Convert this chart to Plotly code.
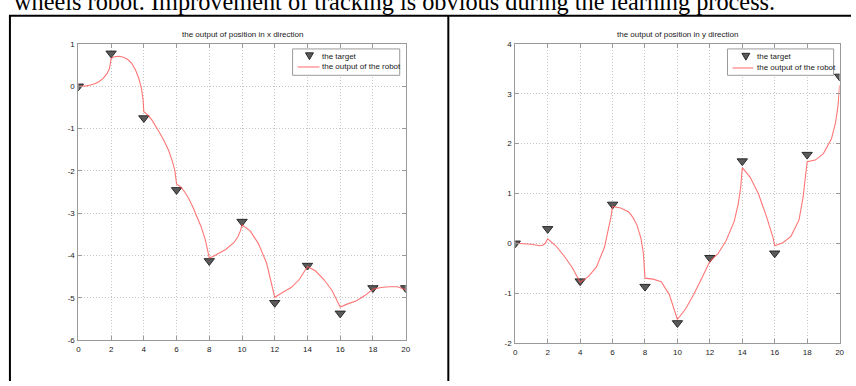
import plotly.graph_objects as go

# ---------------- data ----------------
target_t = [0, 2, 4, 6, 8, 10, 12, 14, 16, 18, 20]
target_x = [0, 0.78, -0.75, -2.45, -4.13, -3.2, -5.12, -4.24, -5.37, -4.77, -4.77]
target_y = [0, 0.29, -0.76, 0.78, -0.87, -1.6, -0.29, 1.65, -0.2, 1.78, 3.35]

robot_tx = [0, 0.25, 0.5, 0.75, 1.0, 1.25, 1.5, 1.75, 1.9, 2.0,
            2.2, 2.5, 2.75, 3.0, 3.25, 3.5, 3.7, 3.85, 3.95, 4.0,
            4.25, 4.5, 4.75, 5.0, 5.25, 5.5, 5.75, 5.9, 6.0,
            6.25, 6.5, 6.75, 7.0, 7.25, 7.5, 7.75, 7.9, 8.0,
            8.25, 8.5, 9.0, 9.5, 9.75, 9.9, 10.0,
            10.5, 11.0, 11.5, 11.75, 11.9, 12.0,
            12.5, 13.0, 13.5, 13.75, 14.0,
            14.5, 15.0, 15.5, 15.75, 16.0,
            16.5, 17.0, 17.5, 18.0,
            18.5, 19.0, 19.5, 19.8, 20.0]
robot_x = [0, 0.0, 0.01, 0.03, 0.06, 0.11, 0.18, 0.3, 0.42, 0.66,
           0.7, 0.71, 0.69, 0.64, 0.55, 0.38, 0.18, -0.05, -0.3, -0.6,
           -0.68, -0.8, -0.95, -1.12, -1.3, -1.5, -1.78, -2.0, -2.31,
           -2.38, -2.5, -2.66, -2.86, -3.07, -3.32, -3.62, -3.85, -4.06,
           -4.02, -3.97, -3.86, -3.7, -3.56, -3.42, -3.28,
           -3.42, -3.72, -4.18, -4.57, -4.8, -4.99,
           -4.87, -4.76, -4.57, -4.43, -4.26,
           -4.37, -4.57, -4.83, -5.03, -5.22,
           -5.14, -5.07, -4.95, -4.8,
           -4.76, -4.74, -4.74, -4.78, -4.81]

robot_ty = [0, 0.5, 1.0, 1.5, 1.7, 1.85, 2.0,
            2.5, 3.0, 3.5, 3.75, 4.0,
            4.5, 5.0, 5.5, 5.75, 5.9, 6.0,
            6.5, 7.0, 7.25, 7.5, 7.75, 7.9, 8.0,
            8.5, 9.0, 9.5, 9.75, 10.0,
            10.5, 11.0, 11.5, 11.75, 12.0,
            12.5, 13.0, 13.5, 13.75, 13.9, 14.0,
            14.5, 15.0, 15.5, 15.75, 15.9, 16.0,
            16.5, 17.0, 17.5, 17.75, 17.9, 18.0,
            18.5, 19.0, 19.5, 19.75, 19.9, 20.0]
robot_y = [0, -0.01, -0.02, -0.05, -0.04, 0.0, 0.09,
           -0.05, -0.25, -0.48, -0.63, -0.78,
           -0.67, -0.48, -0.08, 0.27, 0.53, 0.74,
           0.71, 0.63, 0.52, 0.37, 0.1, -0.2, -0.7,
           -0.72, -0.77, -1.03, -1.29, -1.53,
           -1.32, -1.03, -0.7, -0.52, -0.36,
           -0.21, 0.05, 0.44, 0.79, 1.12, 1.52,
           1.32, 0.99, 0.53, 0.27, 0.11, -0.05,
           0.01, 0.14, 0.47, 0.93, 1.32, 1.64,
           1.67, 1.8, 2.1, 2.42, 2.75, 3.17]

x_ticks = [0, 2, 4, 6, 8, 10, 12, 14, 16, 18, 20]
left_yticks = [1, 0, -1, -2, -3, -4, -5, -6]
right_yticks = [4, 3, 2, 1, 0, -1, -2]

title_left = "the output of position in x direction"
title_right = "the output of position in y direction"
name_target = "the target"
name_robot = "the output of the robot"
caption = "wheels robot. Improvement of tracking is obvious during the learning process."

# ---------------- styles ----------------
W, H = 856, 386
LINE_COLOR = "rgba(255,80,80,0.78)"
MARK_FILL = "#5a5a5a"
MARK_EDGE = "#2a2a2a"
AXIS_GREY = "#9a9a9a"
TICKFONT = dict(family="Liberation Sans", size=8, color="#1a1a1a")

def px_x(p):
    return p / W

def px_y(p):
    return 1 - p / H

fig = go.Figure()

marker_style = dict(symbol="triangle-down", size=9, color=MARK_FILL,
                    line=dict(color=MARK_EDGE, width=1))
fig.add_trace(go.Scatter(x=target_t, y=target_x, mode="markers", name=name_target,
                         marker=marker_style, xaxis="x", yaxis="y", showlegend=False))
fig.add_trace(go.Scatter(x=robot_tx, y=robot_x, mode="lines", name=name_robot,
                         line=dict(color=LINE_COLOR, width=1.1),
                         xaxis="x", yaxis="y", showlegend=False))
fig.add_trace(go.Scatter(x=target_t, y=target_y, mode="markers", name=name_target,
                         marker=marker_style, xaxis="x2", yaxis="y2", showlegend=False))
fig.add_trace(go.Scatter(x=robot_ty, y=robot_y, mode="lines", name=name_robot,
                         line=dict(color=LINE_COLOR, width=1.1),
                         xaxis="x2", yaxis="y2", showlegend=False))

axis_common = dict(showgrid=True, gridcolor="#c4c4c4", griddash="1px,2px", gridwidth=1,
                   showline=True, linecolor=AXIS_GREY, linewidth=1, mirror="ticks",
                   ticks="inside", ticklen=4, tickcolor=AXIS_GREY, tickfont=TICKFONT,
                   zeroline=False, fixedrange=True)

fig.update_layout(
    width=W, height=H,
    margin=dict(l=0, r=0, t=0, b=0),
    paper_bgcolor="white", plot_bgcolor="white",
    showlegend=False,
    xaxis=dict(domain=[px_x(77), px_x(407)], range=[0, 20], tickvals=x_ticks,
               ticktext=[str(v) for v in x_ticks],
               anchor="y", ticklabelstandoff=1, **axis_common),
    yaxis=dict(domain=[px_y(344), px_y(41)], range=[-6, 1], tickvals=left_yticks,
               ticktext=[str(v) for v in left_yticks],
               anchor="x", ticklabelstandoff=1, **axis_common),
    xaxis2=dict(domain=[px_x(517.5), px_x(844.5)], range=[0, 20], tickvals=x_ticks,
                ticktext=[str(v) for v in x_ticks],
                anchor="y2", ticklabelstandoff=1, **axis_common),
    yaxis2=dict(domain=[px_y(347), px_y(41)], range=[-2, 4], tickvals=right_yticks,
                ticktext=[str(v) for v in right_yticks],
                anchor="x2", ticklabelstandoff=1, **axis_common),
)

small_font = dict(family="Liberation Sans", size=8, color="#1a1a1a")
fig.add_annotation(text=title_left, x=(px_x(77) + px_x(407)) / 2, y=px_y(31),
                   xref="paper", yref="paper", showarrow=False, xanchor="center", yanchor="middle",
                   font=small_font)
fig.add_annotation(text=title_right, x=(px_x(517.5) + px_x(844.5)) / 2, y=px_y(31),
                   xref="paper", yref="paper", showarrow=False, xanchor="center", yanchor="middle",
                   font=small_font)
fig.add_annotation(text=caption, x=px_x(10), y=px_y(13.5), xref="paper", yref="paper",
                   showarrow=False, xanchor="left", yanchor="bottom",
                   font=dict(family="Liberation Serif", size=24.3, color="black"))

# legend boxes (MATLAB style, compact), drawn in paper space
def add_legend(box_l, box_r, box_t, box_b, mark_cx, line_l, line_r, text_l, row1, row2):
    fig.add_shape(type="rect", xref="paper", yref="paper",
                  x0=px_x(box_l), x1=px_x(box_r), y0=px_y(box_b), y1=px_y(box_t),
                  line=dict(color=AXIS_GREY, width=1), fillcolor="white", layer="above")
    path = "M {:.5f},{:.5f} L {:.5f},{:.5f} L {:.5f},{:.5f} Z".format(
        px_x(mark_cx - 4), px_y(row1 - 3.5), px_x(mark_cx + 4), px_y(row1 - 3.5),
        px_x(mark_cx), px_y(row1 + 3.5))
    fig.add_shape(type="path", xref="paper", yref="paper", path=path,
                  fillcolor=MARK_FILL, line=dict(color=MARK_EDGE, width=1), layer="above")
    fig.add_shape(type="line", xref="paper", yref="paper",
                  x0=px_x(line_l), x1=px_x(line_r), y0=px_y(row2), y1=px_y(row2),
                  line=dict(color=LINE_COLOR, width=1.1), layer="above")
    fig.add_annotation(text=name_target, x=px_x(text_l), y=px_y(row1), xref="paper", yref="paper",
                       showarrow=False, xanchor="left", yanchor="middle", font=small_font)
    fig.add_annotation(text=name_robot, x=px_x(text_l), y=px_y(row2), xref="paper", yref="paper",
                       showarrow=False, xanchor="left", yanchor="middle", font=small_font)

add_legend(293, 401, 46, 73, 310, 298, 320, 321, 53.5, 64.5)
add_legend(731.5, 838.5, 46, 73, 750, 736.5, 757.5, 759.5, 54, 65.5)

# table borders
border = dict(color="black", width=2)
fig.add_shape(type="line", xref="paper", yref="paper", x0=px_x(7), x1=1, y0=px_y(12), y1=px_y(12), line=border)
fig.add_shape(type="line", xref="paper", yref="paper", x0=px_x(8), x1=px_x(8), y0=px_y(12), y1=0, line=border)
fig.add_shape(type="line", xref="paper", yref="paper", x0=px_x(450), x1=px_x(450), y0=px_y(12), y1=0, line=border)

fig.write_html("out.html", config={"displayModeBar": False, "staticPlot": True},
               post_script="document.body.style.margin='0px';")
